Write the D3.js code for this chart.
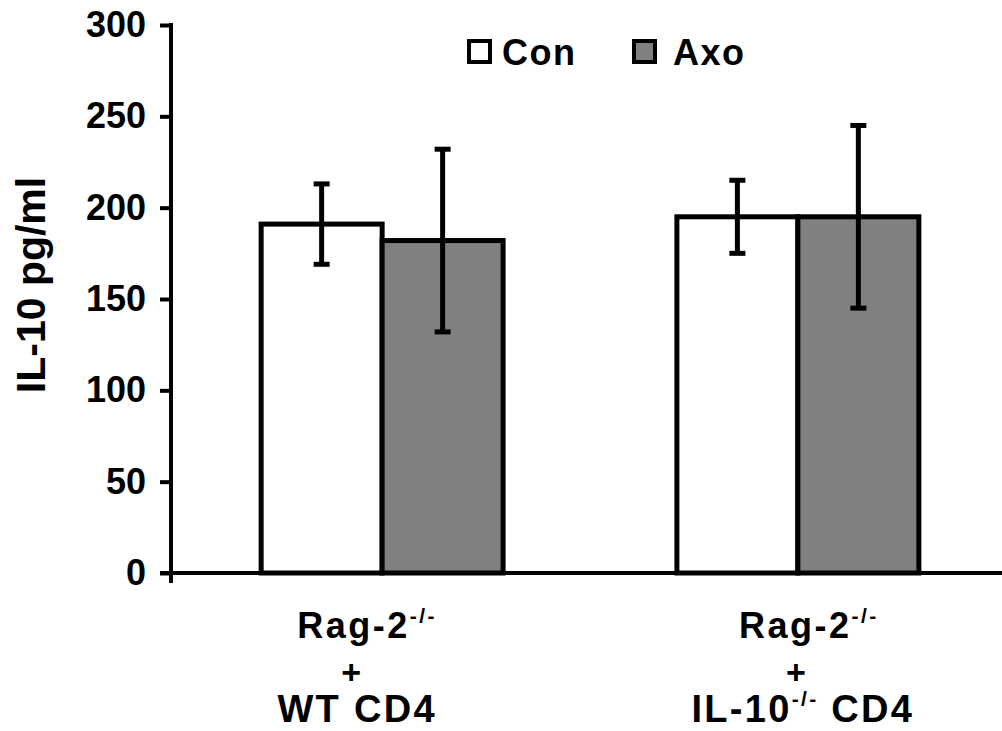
<!DOCTYPE html>
<html>
<head>
<meta charset="utf-8">
<script src="https://cdn.jsdelivr.net/npm/d3@7"></script>
<style>
  html, body { margin: 0; padding: 0; background: #fff; }
  svg { display: block; }
  text { font-family: "Liberation Sans", Arial, sans-serif; font-weight: bold; fill: #000; }
</style>
</head>
<body>
<div id="chart"></div>
<script>
// Data
const groups = ["WT", "IL10"];
const series = ["Con", "Axo"];
const conMeans = [191, 195];
const conErrors = [22, 20];
const axoMeans = [182, 195];
const axoErrors = [50, 50];
const yTicks = [0, 50, 100, 150, 200, 250, 300];
const yLabel = "IL-10 pg/ml";
// x labels: [line1 main, line1 sup, line2, line3 main, line3 sup, line3 rest]
const xLabels = [
    ["Rag-2", "-/-", "+", "WT CD4", "", ""],
    ["Rag-2", "-/-", "+", "IL-10", "-/-", " CD4"]
];

const width = 1002, height = 731;
const colors = {Con: "#ffffff", Axo: "#808080"};

const svg = d3.select("#chart")
    .append("svg")
    .attr("width", width)
    .attr("height", height);

// Scales
const y = d3.scaleLinear().domain([0, 300]).range([573, 25]);
const x = d3.scaleBand().domain(groups).range([178, 1002])
    .paddingInner(0.418).paddingOuter(0.2);
const xs = d3.scaleBand().domain(series).range([0, x.bandwidth()]);

// Bar table built from the arrays
const bars = [];
groups.forEach((g, i) => {
    bars.push({group: g, series: "Con", mean: conMeans[i], err: conErrors[i]});
    bars.push({group: g, series: "Axo", mean: axoMeans[i], err: axoErrors[i]});
});

// Bars
svg.selectAll(".bar")
    .data(bars)
    .join("rect")
    .attr("class", "bar")
    .attr("x", d => x(d.group) + xs(d.series))
    .attr("y", d => y(d.mean))
    .attr("width", xs.bandwidth())
    .attr("height", d => y(0) - y(d.mean))
    .attr("fill", d => colors[d.series])
    .attr("stroke", "#000")
    .attr("stroke-width", 5);

// Error bars
const capW = 16;
const eb = svg.selectAll(".err")
    .data(bars)
    .join("g")
    .attr("class", "err")
    .attr("transform", d => `translate(${x(d.group) + xs(d.series) + xs.bandwidth() / 2},0)`);
eb.append("line")
    .attr("y1", d => y(d.mean + d.err))
    .attr("y2", d => y(d.mean - d.err))
    .attr("stroke", "#000").attr("stroke-width", 5);
eb.append("line")
    .attr("x1", -capW / 2).attr("x2", capW / 2)
    .attr("y1", d => y(d.mean + d.err)).attr("y2", d => y(d.mean + d.err))
    .attr("stroke", "#000").attr("stroke-width", 5);
eb.append("line")
    .attr("x1", -capW / 2).attr("x2", capW / 2)
    .attr("y1", d => y(d.mean - d.err)).attr("y2", d => y(d.mean - d.err))
    .attr("stroke", "#000").attr("stroke-width", 5);

// X axis line
svg.append("line")
    .attr("x1", 160).attr("x2", width)
    .attr("y1", y(0)).attr("y2", y(0))
    .attr("stroke", "#000").attr("stroke-width", 4);

// Y axis
const yAxis = svg.append("g")
    .attr("transform", "translate(171,0)")
    .call(d3.axisLeft(y).tickValues(yTicks).tickSize(11).tickSizeOuter(0).tickPadding(14));
yAxis.select(".domain").remove();
yAxis.selectAll(".tick line").attr("stroke", "#000").attr("stroke-width", 4);
yAxis.selectAll(".tick text")
    .style("font-size", "36px")
    .style("font-family", "'Liberation Sans', Arial, sans-serif")
    .style("font-weight", "bold")
    .attr("fill", "#000");
svg.append("line")
    .attr("x1", 171).attr("x2", 171)
    .attr("y1", y(300) - 2).attr("y2", y(0) + 10)
    .attr("stroke", "#000").attr("stroke-width", 4);

// Y label
svg.append("text")
    .attr("transform", "translate(45,285) rotate(-90)")
    .attr("text-anchor", "middle")
    .style("font-size", "41px")
    .text(yLabel);

// X labels
const lineDx = [[-15, -31, -25], [11, -2, 5]];
xLabels.forEach((lab, i) => {
    const cx = x(groups[i]) + x.bandwidth() / 2;
    const t1 = svg.append("text")
        .attr("x", cx + lineDx[i][0]).attr("y", 638)
        .attr("text-anchor", "middle")
        .style("font-size", "36px").style("letter-spacing", "2.5px");
    t1.append("tspan").text(lab[0]);
    t1.append("tspan").attr("dy", -15).style("font-size", "21px").text(lab[1]);

    svg.append("text")
        .attr("x", cx + lineDx[i][1]).attr("y", 684)
        .attr("text-anchor", "middle")
        .style("font-size", "34px")
        .text(lab[2]);

    const t3 = svg.append("text")
        .attr("x", cx + lineDx[i][2]).attr("y", 722)
        .attr("text-anchor", "middle")
        .style("font-size", "38px").style("letter-spacing", "2.3px");
    t3.append("tspan").text(lab[3]);
    if (lab[4]) {
        t3.append("tspan").attr("dy", -16).style("font-size", "21px").text(lab[4]);
        t3.append("tspan").attr("dy", 16).text(lab[5]);
    }
});

// Legend
const legendX = [469, 634];
const leg = svg.selectAll(".legend")
    .data(series)
    .join("g")
    .attr("class", "legend")
    .attr("transform", (d, i) => `translate(${legendX[i]},41)`);
leg.append("rect")
    .attr("width", 21).attr("height", 21)
    .attr("fill", d => colors[d])
    .attr("stroke", "#000").attr("stroke-width", 4);
leg.append("text")
    .attr("x", (d, i) => i === 0 ? 33 : 39)
    .attr("y", 24)
    .style("font-size", "36px").style("letter-spacing", "1.5px")
    .text(d => d);
</script>
</body>
</html>
